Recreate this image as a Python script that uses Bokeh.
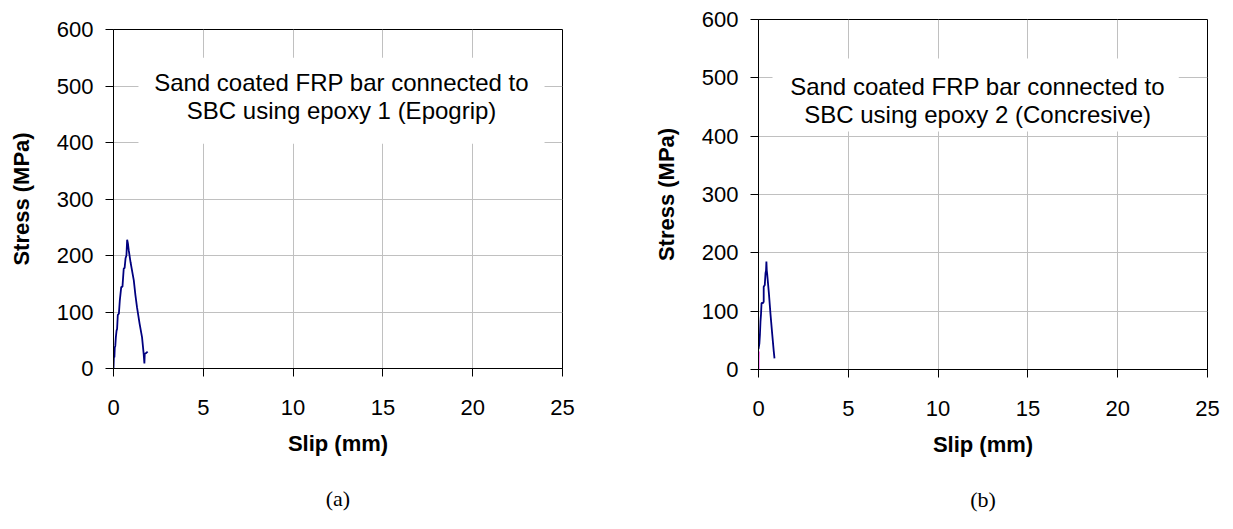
from bokeh.plotting import figure
from bokeh.layouts import row, column
from bokeh.models import BoxAnnotation, Label, FixedTicker, LinearAxis
from bokeh.embed import file_html
from bokeh.resources import INLINE

# ---- data ----
x_ticks = [0, 5, 10, 15, 20, 25]
y_ticks = [0, 100, 200, 300, 400, 500, 600]

a_slip = [0, 0.02, 0.05, 0.07, 0.1, 0.13, 0.17, 0.2, 0.24, 0.3, 0.35, 0.43, 0.5,
          0.57, 0.62, 0.67, 0.72, 0.76, 0.8, 0.85, 0.95, 1.05, 1.13, 1.22, 1.31,
          1.45, 1.59, 1.68, 1.72, 1.74, 1.8, 1.87, 1.9]
a_stress = [0, 20, 20, 37, 40, 55, 67, 70, 95, 97, 120, 144, 145, 177, 178, 195,
            200, 228, 222, 209, 188, 170, 156, 130, 108, 80, 55, 26, 9, 26, 27, 29, 30]

b_slip = [0, 0.05, 0.08, 0.11, 0.14, 0.17, 0.25, 0.29, 0.29, 0.35, 0.39, 0.42,
          0.44, 0.46, 0.48, 0.58, 0.67, 0.76, 0.85, 0.89]
b_stress = [35, 45, 60, 82, 95, 114, 114, 116, 142, 145, 165, 170, 185, 170, 165,
            130, 94, 62, 31, 19]
b2_slip = [0, 0.0, 0.01]
b2_stress = [0, 15, 31]

title_a = ["Sand coated FRP bar connected to", "SBC using epoxy 1 (Epogrip)"]
title_b = ["Sand coated FRP bar connected to", "SBC using epoxy 2 (Concresive)"]
captions = ["(a)", "(b)"]

FONT = "Liberation Sans"
GRID = "#c0c0c0"
NAVY = "#00007f"


def make_fig(width, mb_left, mb_right, mb_top, mb_bottom, height, caption):
    p = figure(width=width, height=height, x_range=(0, 25), y_range=(0, 600),
               output_backend="svg", toolbar_location=None,
               min_border_left=mb_left, min_border_right=mb_right,
               min_border_top=mb_top, min_border_bottom=mb_bottom)
    p.outline_line_color = "black"
    p.outline_line_width = 1
    for ax, ticks in ((p.xaxis[0], x_ticks), (p.yaxis[0], y_ticks)):
        ax.ticker = FixedTicker(ticks=ticks)
        ax.major_tick_out = 8
        ax.major_tick_in = 0
        ax.minor_tick_line_color = None
        ax.axis_line_color = "black"
        ax.major_tick_line_color = "black"
        ax.major_label_text_font = FONT
        ax.major_label_text_font_size = "22px"
        ax.major_label_text_color = "black"
        ax.axis_label_text_font = FONT
        ax.axis_label_text_font_size = "22px"
        ax.axis_label_text_font_style = "bold"
        ax.axis_label_text_color = "black"
    p.xaxis.axis_label = "Slip (mm)"
    p.yaxis.axis_label = "Stress (MPa)"
    p.xaxis.major_label_standoff = 23
    p.xaxis.axis_label_standoff = 13
    p.yaxis.major_label_standoff = 12
    p.yaxis.axis_label_standoff = 20
    p.xgrid.ticker = FixedTicker(ticks=x_ticks)
    p.ygrid.ticker = FixedTicker(ticks=y_ticks)
    p.xgrid.grid_line_color = GRID
    p.ygrid.grid_line_color = GRID
    p.xgrid.grid_line_width = 1
    p.ygrid.grid_line_width = 1
    p.background_fill_color = "white"
    p.border_fill_color = "white"
    # caption "(a)" / "(b)" as the label of a blank second axis below
    cap = LinearAxis(ticker=FixedTicker(ticks=[]), axis_label=caption,
                     axis_line_color=None, major_tick_out=0, major_tick_in=0,
                     major_tick_line_color=None, minor_tick_line_color=None,
                     major_label_text_font_size="0px",
                     axis_label_text_font="Liberation Serif",
                     axis_label_text_font_size="22px",
                     axis_label_text_font_style="normal",
                     axis_label_text_color="black",
                     axis_label_standoff=27)
    p.add_layout(cap, "below")
    return p


# ---- (a) ----
pa = make_fig(620, 113, 58, 29, 152, 29 + 339 + 152, captions[0])
pa.line(a_slip, a_stress, line_color=NAVY, line_width=1.8)
pa.add_layout(BoxAnnotation(left=1.39, right=24.0, bottom=398, top=550,
                            fill_color="white", fill_alpha=1.0, line_color=None))
for txt, yy in zip(title_a, [506, 456]):
    pa.add_layout(Label(x=12.7, y=yy, text=txt, text_align="center",
                        text_baseline="middle", text_font=FONT,
                        text_font_size="24px", text_color="black"))

# ---- (b) ----
pb = make_fig(605, 138, 18, 19, 152, 19 + 350 + 152, captions[1])
pb.line(b2_slip, b2_stress, line_color="#ff00ff", line_width=1.8)
pb.line(b_slip, b_stress, line_color=NAVY, line_width=1.8)
pb.add_layout(BoxAnnotation(left=0.78, right=23.4, bottom=408, top=533,
                            fill_color="white", fill_alpha=1.0, line_color=None))
for txt, yy in zip(title_b, [485, 437]):
    pb.add_layout(Label(x=12.2, y=yy, text=txt, text_align="center",
                        text_baseline="middle", text_font=FONT,
                        text_font_size="24px", text_color="black"))

layout = row(column(pa), column(pb))
open("out.html", "w").write(file_html(layout, INLINE))
